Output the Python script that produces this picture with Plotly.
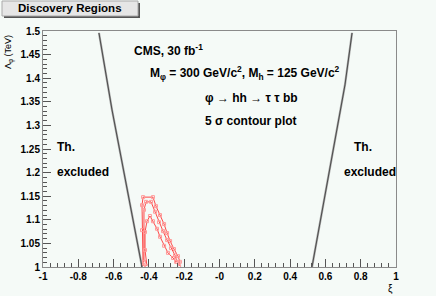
import plotly.graph_objects as go

# ---- data ----
left_bound_xi = [-0.683, -0.609, -0.439]
left_bound_lam = [1.496, 1.333, 1.0]
right_bound_xi = [0.751, 0.711, 0.524]
right_bound_lam = [1.496, 1.386, 1.0]

outer_xi = [-0.433, -0.439, -0.439, -0.433, -0.377, -0.360, -0.337, -0.314, -0.297, -0.280, -0.258, -0.235, -0.224, -0.229]
outer_lam = [1.002, 1.078, 1.131, 1.148, 1.148, 1.129, 1.110, 1.091, 1.072, 1.055, 1.038, 1.023, 1.011, 1.002]
mid_xi = [-0.428, -0.428, -0.416, -0.388, -0.365, -0.343, -0.320, -0.297, -0.275, -0.252, -0.241]
mid_lam = [1.011, 1.121, 1.138, 1.138, 1.117, 1.095, 1.076, 1.057, 1.040, 1.025, 1.011]
inner_xi = [-0.411, -0.422, -0.422, -0.411, -0.394, -0.377, -0.354, -0.337, -0.314, -0.292, -0.263, -0.246]
inner_lam = [1.002, 1.036, 1.074, 1.097, 1.108, 1.097, 1.081, 1.064, 1.045, 1.030, 1.019, 1.011]

x_tickvals = [-1, -0.8, -0.6, -0.4, -0.2, 0, 0.2, 0.4, 0.6, 0.8, 1]
x_ticktext = ["-1", "-0.8", "-0.6", "-0.4", "-0.2", "-0", "0.2", "0.4", "0.6", "0.8", "1"]
y_tickvals = [1, 1.05, 1.1, 1.15, 1.2, 1.25, 1.3, 1.35, 1.4, 1.45, 1.5]
y_ticktext = ["1", "1.05", "1.1", "1.15", "1.2", "1.25", "1.3", "1.35", "1.4", "1.45", "1.5"]

BG = "#f5faf7"
FONT = "Liberation Sans"

fig = go.Figure()

for xs, ys in [(left_bound_xi, left_bound_lam), (right_bound_xi, right_bound_lam)]:
    fig.add_trace(go.Scatter(x=xs, y=ys, mode="lines",
                             line=dict(color="#a8a8a8", width=2.2), hoverinfo="skip", showlegend=False))
    fig.add_trace(go.Scatter(x=xs, y=ys, mode="lines",
                             line=dict(color="#333333", width=0.8), hoverinfo="skip", showlegend=False))

for xs, ys in [(outer_xi, outer_lam), (mid_xi, mid_lam), (inner_xi, inner_lam)]:
    fig.add_trace(go.Scatter(x=xs, y=ys, mode="lines+markers",
                             line=dict(color="rgba(255,40,40,0.85)", width=1),
                             marker=dict(symbol="square-open", size=3, color="#ff9a9a",
                                         line=dict(width=1, color="#ff9a9a")),
                             hoverinfo="skip", showlegend=False))

tf = dict(family=FONT, size=10, color="black", weight="bold")

fig.update_xaxes(range=[-1, 1], tickvals=x_tickvals, ticktext=x_ticktext, automargin=False,
                 ticks="inside", ticklen=8, tickcolor="#555555", tickwidth=1,
                 minor=dict(dtick=0.04, tick0=-1, ticks="inside", ticklen=4, tickcolor="#555555"),
                 showline=True, mirror=True, linecolor="#8a8a8a", linewidth=1,
                 showgrid=False, zeroline=False, tickfont=tf)
fig.update_yaxes(range=[1, 1.5], tickvals=y_tickvals, ticktext=y_ticktext, automargin=False,
                 ticks="inside", ticklen=8, tickcolor="#555555", tickwidth=1,
                 minor=dict(dtick=0.01, tick0=1, ticks="inside", ticklen=4, tickcolor="#555555"),
                 showline=True, mirror=True, linecolor="#8a8a8a", linewidth=1,
                 showgrid=False, zeroline=False, tickfont=tf)

af = dict(family=FONT, size=12, color="black", weight="bold")
texts = [
    ("CMS, 30 fb<sup>-1</sup>", -0.496, 1.46),
    ("M<sub>φ</sub> = 300 GeV/c<sup>2</sup>, M<sub>h</sub> = 125 GeV/c<sup>2</sup>", -0.405, 1.411),
    ("φ → hh → τ τ bb", -0.093, 1.358),
    ("5 σ contour plot", -0.093, 1.309),
    ("Th.", -0.932, 1.254),
    ("excluded", -0.932, 1.201),
    ("Th.", 0.751, 1.254),
    ("excluded", 0.694, 1.201),
]
for t, x, y in texts:
    fig.add_annotation(text=t, x=x, y=y, xref="x", yref="y", xanchor="left", yanchor="middle",
                       showarrow=False, font=af)

# axis titles
fig.add_annotation(text="Λ<sub>φ</sub> (TeV)", xref="paper", yref="paper", x=0, y=1,
                   xanchor="right", yanchor="top", xshift=-26, yshift=-2, textangle=-90,
                   showarrow=False, font=dict(family=FONT, size=9, color="black"))
fig.add_annotation(text="ξ", xref="paper", yref="paper", x=1, y=0,
                   xanchor="right", yanchor="top", xshift=-1, yshift=-14,
                   showarrow=False, font=dict(family=FONT, size=10, color="black"))

# title box with shadow
W, H = 436, 296
L, R, T, B = 43, 40, 31, 29
pw, ph = W - L - R, H - T - B
def px(xp): return (xp - L) / pw
def py(yp): return (H - B - yp) / ph
fig.add_shape(type="rect", xref="paper", yref="paper",
              x0=px(4), x1=px(140), y0=py(18), y1=py(3),
              fillcolor="#555555", line=dict(width=0), layer="above")
fig.add_shape(type="rect", xref="paper", yref="paper",
              x0=px(2), x1=px(138), y0=py(16), y1=py(1),
              fillcolor="#e6e6e6", line=dict(width=1, color="#aaaaaa"), layer="above")
fig.add_annotation(text="Discovery Regions", xref="paper", yref="paper",
                   x=px(70), y=py(8.5), xanchor="center", yanchor="middle",
                   showarrow=False, font=dict(family=FONT, size=11.5, color="black", weight="bold"))

fig.update_layout(width=W, height=H, margin=dict(l=L, r=R, t=T, b=B),
                  paper_bgcolor=BG, plot_bgcolor=BG, showlegend=False)

fig.write_html("out.html", config={"displayModeBar": False},
               post_script="document.body.style.margin='0';document.body.style.background='%s';" % BG)
